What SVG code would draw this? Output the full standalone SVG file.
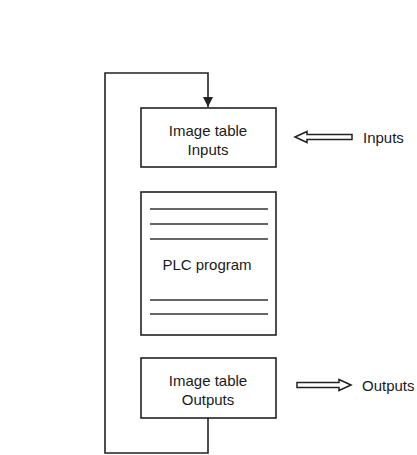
<svg xmlns="http://www.w3.org/2000/svg" width="417" height="455" viewBox="0 0 417 455">
<defs>
<style>
.box{fill:#fff;stroke:#222;stroke-width:1.6}
.ln{fill:none;stroke:#222;stroke-width:1.6}
.rule{stroke:#333;stroke-width:1.3}
.t{font-family:"Liberation Sans",Arial,sans-serif;font-size:15px;fill:#1a1a1a;text-anchor:middle;dominant-baseline:central}
.ts{font-family:"Liberation Sans",Arial,sans-serif;font-size:15px;fill:#1a1a1a;dominant-baseline:central}
.hollow{fill:#fff;stroke:#222;stroke-width:1.5;stroke-linejoin:miter}
</style>
<marker id="ah" markerWidth="12" markerHeight="12" refX="10" refY="5" orient="auto" markerUnits="userSpaceOnUse">
<path d="M0,0 L10,5 L0,10 Z" fill="#222"/>
</marker>
</defs>
<rect width="417" height="455" fill="#fff"/>
<g id="connectors">
<path class="ln" d="M208,418 V453 H105 V73 H208 V107" marker-end="url(#ah)"/>
<path id="inputs-arrow" class="hollow" d="M295,137 L307,131.5 V134.5 H352 V139.5 H307 V142.5 Z"/>
<path id="outputs-arrow" class="hollow" d="M351,385 L339,379.5 V382.5 H297 V387.5 H339 V390.5 Z"/>
</g>
<g id="image-table-inputs">
<rect class="box" x="141" y="108" width="135" height="59"/>
<text class="t" x="208" y="130">Image table</text>
<text class="t" x="208" y="149">Inputs</text>
</g>
<g id="plc-program">
<rect class="box" x="141" y="192" width="135" height="143"/>
<line class="rule" x1="150" y1="209" x2="268" y2="209"/>
<line class="rule" x1="150" y1="224" x2="268" y2="224"/>
<line class="rule" x1="150" y1="239" x2="268" y2="239"/>
<line class="rule" x1="150" y1="300" x2="268" y2="300"/>
<line class="rule" x1="150" y1="314" x2="268" y2="314"/>
<text class="t" x="207" y="264">PLC program</text>
</g>
<g id="image-table-outputs">
<rect class="box" x="141" y="358" width="135" height="60"/>
<text class="t" x="208" y="380">Image table</text>
<text class="t" x="208" y="399">Outputs</text>
</g>
<g id="label-inputs"><text class="ts" x="363" y="137">Inputs</text></g>
<g id="label-outputs"><text class="ts" x="362" y="385">Outputs</text></g>
</svg>
